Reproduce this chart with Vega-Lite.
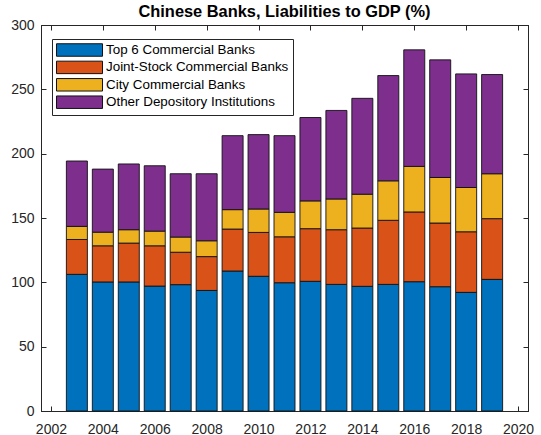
{
  "$schema": "https://vega.github.io/schema/vega-lite/v6.json",
  "width": 487,
  "height": 386,
  "autosize": {"type": "none"},
  "padding": {"left": 41, "top": 25, "right": 13, "bottom": 24},
  "background": "white",
  "title": {"text": "Chinese Banks, Liabilities to GDP (%)", "font": "Liberation Sans", "fontSize": 16.4, "fontWeight": "bold", "color": "black", "anchor": "middle", "frame": "group", "offset": -2},
  "config": {
    "view": {"stroke": "#262626", "strokeWidth": 1},
    "axis": {"labelFont": "Liberation Sans", "labelFontSize": 14, "labelColor": "#262626", "tickColor": "#262626", "domainColor": "#262626", "tickSize": -5, "grid": false, "title": null, "labelFlush": false, "labelOverlap": false}
  },
  "data": {"values": [
    {"year": 2003, "s": "Top 6 Commercial Banks", "k": 1, "v": 106.2},
    {"year": 2003, "s": "Joint-Stock Commercial Banks", "k": 2, "v": 27.1},
    {"year": 2003, "s": "City Commercial Banks", "k": 3, "v": 10.2},
    {"year": 2003, "s": "Other Depository Institutions", "k": 4, "v": 50.8},
    {"year": 2004, "s": "Top 6 Commercial Banks", "k": 1, "v": 100.3},
    {"year": 2004, "s": "Joint-Stock Commercial Banks", "k": 2, "v": 28.1},
    {"year": 2004, "s": "City Commercial Banks", "k": 3, "v": 10.6},
    {"year": 2004, "s": "Other Depository Institutions", "k": 4, "v": 49.0},
    {"year": 2005, "s": "Top 6 Commercial Banks", "k": 1, "v": 100.3},
    {"year": 2005, "s": "Joint-Stock Commercial Banks", "k": 2, "v": 30.2},
    {"year": 2005, "s": "City Commercial Banks", "k": 3, "v": 10.4},
    {"year": 2005, "s": "Other Depository Institutions", "k": 4, "v": 51.1},
    {"year": 2006, "s": "Top 6 Commercial Banks", "k": 1, "v": 97.1},
    {"year": 2006, "s": "Joint-Stock Commercial Banks", "k": 2, "v": 31.3},
    {"year": 2006, "s": "City Commercial Banks", "k": 3, "v": 11.4},
    {"year": 2006, "s": "Other Depository Institutions", "k": 4, "v": 50.8},
    {"year": 2007, "s": "Top 6 Commercial Banks", "k": 1, "v": 98.2},
    {"year": 2007, "s": "Joint-Stock Commercial Banks", "k": 2, "v": 25.2},
    {"year": 2007, "s": "City Commercial Banks", "k": 3, "v": 11.8},
    {"year": 2007, "s": "Other Depository Institutions", "k": 4, "v": 49.2},
    {"year": 2008, "s": "Top 6 Commercial Banks", "k": 1, "v": 93.7},
    {"year": 2008, "s": "Joint-Stock Commercial Banks", "k": 2, "v": 26.3},
    {"year": 2008, "s": "City Commercial Banks", "k": 3, "v": 12.3},
    {"year": 2008, "s": "Other Depository Institutions", "k": 4, "v": 52.1},
    {"year": 2009, "s": "Top 6 Commercial Banks", "k": 1, "v": 108.8},
    {"year": 2009, "s": "Joint-Stock Commercial Banks", "k": 2, "v": 32.6},
    {"year": 2009, "s": "City Commercial Banks", "k": 3, "v": 15.1},
    {"year": 2009, "s": "Other Depository Institutions", "k": 4, "v": 57.5},
    {"year": 2010, "s": "Top 6 Commercial Banks", "k": 1, "v": 104.7},
    {"year": 2010, "s": "Joint-Stock Commercial Banks", "k": 2, "v": 34.1},
    {"year": 2010, "s": "City Commercial Banks", "k": 3, "v": 18.2},
    {"year": 2010, "s": "Other Depository Institutions", "k": 4, "v": 57.8},
    {"year": 2011, "s": "Top 6 Commercial Banks", "k": 1, "v": 99.7},
    {"year": 2011, "s": "Joint-Stock Commercial Banks", "k": 2, "v": 35.7},
    {"year": 2011, "s": "City Commercial Banks", "k": 3, "v": 19.0},
    {"year": 2011, "s": "Other Depository Institutions", "k": 4, "v": 59.6},
    {"year": 2012, "s": "Top 6 Commercial Banks", "k": 1, "v": 100.8},
    {"year": 2012, "s": "Joint-Stock Commercial Banks", "k": 2, "v": 40.9},
    {"year": 2012, "s": "City Commercial Banks", "k": 3, "v": 21.6},
    {"year": 2012, "s": "Other Depository Institutions", "k": 4, "v": 64.8},
    {"year": 2013, "s": "Top 6 Commercial Banks", "k": 1, "v": 98.4},
    {"year": 2013, "s": "Joint-Stock Commercial Banks", "k": 2, "v": 42.5},
    {"year": 2013, "s": "City Commercial Banks", "k": 3, "v": 23.9},
    {"year": 2013, "s": "Other Depository Institutions", "k": 4, "v": 68.8},
    {"year": 2014, "s": "Top 6 Commercial Banks", "k": 1, "v": 96.9},
    {"year": 2014, "s": "Joint-Stock Commercial Banks", "k": 2, "v": 45.3},
    {"year": 2014, "s": "City Commercial Banks", "k": 3, "v": 26.3},
    {"year": 2014, "s": "Other Depository Institutions", "k": 4, "v": 74.5},
    {"year": 2015, "s": "Top 6 Commercial Banks", "k": 1, "v": 98.4},
    {"year": 2015, "s": "Joint-Stock Commercial Banks", "k": 2, "v": 49.8},
    {"year": 2015, "s": "City Commercial Banks", "k": 3, "v": 30.7},
    {"year": 2015, "s": "Other Depository Institutions", "k": 4, "v": 81.8},
    {"year": 2016, "s": "Top 6 Commercial Banks", "k": 1, "v": 100.5},
    {"year": 2016, "s": "Joint-Stock Commercial Banks", "k": 2, "v": 54.2},
    {"year": 2016, "s": "City Commercial Banks", "k": 3, "v": 35.4},
    {"year": 2016, "s": "Other Depository Institutions", "k": 4, "v": 90.6},
    {"year": 2017, "s": "Top 6 Commercial Banks", "k": 1, "v": 96.6},
    {"year": 2017, "s": "Joint-Stock Commercial Banks", "k": 2, "v": 49.5},
    {"year": 2017, "s": "City Commercial Banks", "k": 3, "v": 35.4},
    {"year": 2017, "s": "Other Depository Institutions", "k": 4, "v": 91.4},
    {"year": 2018, "s": "Top 6 Commercial Banks", "k": 1, "v": 92.2},
    {"year": 2018, "s": "Joint-Stock Commercial Banks", "k": 2, "v": 47.1},
    {"year": 2018, "s": "City Commercial Banks", "k": 3, "v": 34.4},
    {"year": 2018, "s": "Other Depository Institutions", "k": 4, "v": 88.3},
    {"year": 2019, "s": "Top 6 Commercial Banks", "k": 1, "v": 102.3},
    {"year": 2019, "s": "Joint-Stock Commercial Banks", "k": 2, "v": 47.2},
    {"year": 2019, "s": "City Commercial Banks", "k": 3, "v": 34.9},
    {"year": 2019, "s": "Other Depository Institutions", "k": 4, "v": 77.1}
  ]},
  "layer": [
    {
      "mark": {"type": "bar", "size": 21, "stroke": "#111111", "strokeWidth": 0.9},
      "encoding": {
        "x": {"field": "year", "type": "quantitative", "scale": {"domain": [2001.81, 2020.19], "nice": false, "zero": false},
              "axis": {"orient": "bottom", "values": [2002, 2004, 2006, 2008, 2010, 2012, 2014, 2016, 2018, 2020], "format": "d", "labelPadding": 16}},
        "y": {"field": "v", "type": "quantitative", "stack": "zero", "scale": {"domain": [0, 300], "nice": false},
              "axis": {"orient": "left", "values": [0, 50, 100, 150, 200, 250, 300], "labelPadding": 12}},
        "color": {"field": "s", "type": "nominal",
                  "scale": {"domain": ["Top 6 Commercial Banks", "Joint-Stock Commercial Banks", "City Commercial Banks", "Other Depository Institutions"],
                            "range": ["#0072BD", "#D95319", "#EDB120", "#7E2F8E"]},
                  "legend": {"orient": "none", "legendX": 11, "legendY": 14, "title": null, "fillColor": "white", "strokeColor": "#262626", "padding": 4,
                             "symbolType": "M-1,-0.96H6.08V0.96H-1Z", "symbolSize": 169, "symbolStrokeColor": "#111111", "symbolStrokeWidth": 1, "symbolOpacity": 1,
                             "labelFont": "Liberation Sans", "labelFontSize": 13.4, "labelColor": "black", "labelOffset": 36, "rowPadding": -0.6, "labelLimit": 400}},
        "order": {"field": "k", "type": "quantitative"}
      }
    },
    {
      "mark": {"type": "bar", "size": 21, "opacity": 0},
      "encoding": {
        "x": {"field": "year", "type": "quantitative", "axis": {"orient": "top", "values": [2002, 2004, 2006, 2008, 2010, 2012, 2014, 2016, 2018, 2020], "labels": false}},
        "y": {"field": "v", "type": "quantitative", "stack": null, "axis": {"orient": "right", "values": [0, 50, 100, 150, 200, 250, 300], "labels": false}}
      }
    }
  ],
  "resolve": {"axis": {"x": "independent", "y": "independent"}}
}
